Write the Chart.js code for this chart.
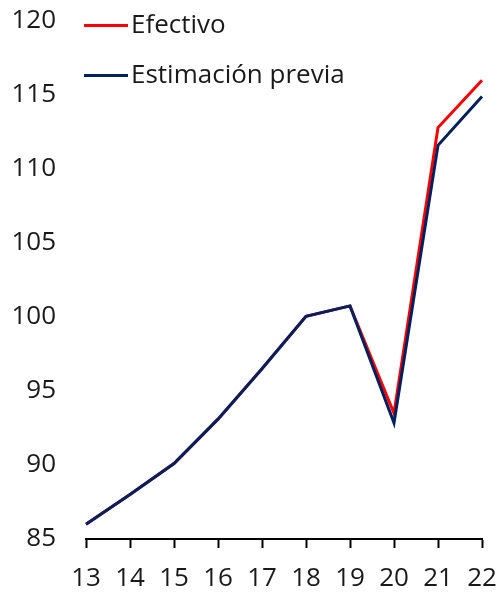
<!DOCTYPE html>
<html><head><meta charset="utf-8">
<script src="https://cdn.jsdelivr.net/npm/chart.js@4/dist/chart.umd.min.js"></script>
<style>html,body{margin:0;padding:0;background:#fff}#wrap{width:501px;height:592px}</style>
</head><body><div id="wrap"><canvas id="c" width="501" height="592"></canvas></div>
<script>
const categories = ["13","14","15","16","17","18","19","20","21","22"];
const efectivo = [86.0, 88.0, 90.1, 93.1, 96.5, 100.05, 100.75, 93.5, 112.8, 116.0];
const estimacion = [86.0, 88.0, 90.1, 93.1, 96.5, 100.05, 100.75, 92.85, 111.6, 114.9];
const yTicks = [85, 90, 95, 100, 105, 110, 115, 120];
const seriesNames = ["Efectivo", "Estimación previa"];
const seriesColors = ["#FF0000", "#002060"];

const FONT = "'Open Sans'";
const TEXT = '#1a1a1a';
const legendPlugin = {
  id: 'customLegend',
  afterDraw(chart) {
    const ctx = chart.ctx;
    ctx.save();
    chart.data.datasets.forEach((ds, i) => {
      const y = 25.5 + i * 50;
      ctx.strokeStyle = ds.borderColor;
      ctx.lineWidth = 3;
      ctx.beginPath(); ctx.moveTo(84, y); ctx.lineTo(128, y); ctx.stroke();
      ctx.fillStyle = TEXT;
      ctx.font = '26px ' + FONT;
      ctx.textBaseline = 'middle';
      ctx.textAlign = 'left';
      ctx.fillText(ds.label, 131, y);
    });
    ctx.restore();
  }
};

new Chart(document.getElementById('c'), {
  type: 'line',
  data: {
    labels: categories,
    datasets: [
      { label: seriesNames[0], data: efectivo, borderColor: seriesColors[0], borderWidth: 3, pointRadius: 0, order: 1, tension: 0, fill: false },
      { label: seriesNames[1], data: estimacion, borderColor: seriesColors[1], borderWidth: 3, pointRadius: 0, order: 0, tension: 0, fill: false }
    ]
  },
  options: {
    responsive: false,
    animation: false,
    layout: { padding: 0 },
    plugins: { legend: { display: false }, tooltip: { enabled: false } },
    scales: {
      x: {
        offset: false,
        grid: { display: true, drawOnChartArea: false, drawTicks: true, tickLength: 9, tickWidth: 2, tickColor: '#000' },
        border: { display: true, color: '#000', width: 2 },
        ticks: { color: TEXT, font: { family: FONT, size: 26 }, padding: 15, maxRotation: 0, autoSkip: false },
        afterFit(s) { s.height = 53; s.paddingLeft = 0; s.paddingRight = 19; }
      },
      y: {
        min: 85, max: 120,
        afterBuildTicks(s) { s.ticks = yTicks.map(v => ({ value: v })); },
        grid: { display: false, drawTicks: false },
        border: { display: false },
        ticks: { color: TEXT, font: { family: FONT, size: 26 }, padding: 30 },
        afterFit(s) { s.width = 86; s.paddingTop = 21; s.paddingBottom = 0; }
      }
    }
  },
  plugins: [legendPlugin]
});
</script></body></html>
